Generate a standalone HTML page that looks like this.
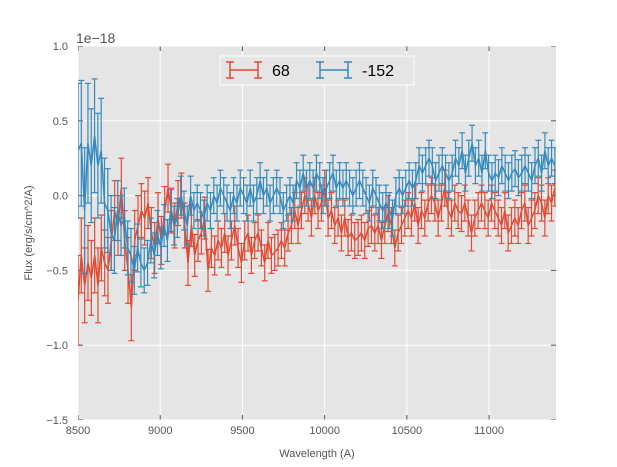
<!DOCTYPE html>
<html><head><meta charset="utf-8"><style>
body{margin:0;background:#fff;}
svg{display:block;font-family:"Liberation Sans","DejaVu Sans",sans-serif;}
</style></head><body>
<svg id="chart" width="617" height="467"></svg>
<script>
const red68 = [-0.7,-0.4,-0.6,-0.45,-0.55,-0.4,-0.6,-0.35,-0.45,-0.5,-0.3,-0.1,-0.2,0.05,-0.3,-0.5,-0.75,-0.3,-0.2,-0.1,-0.15,-0.05,-0.25,-0.35,-0.15,-0.3,-0.1,0.05,-0.1,-0.2,-0.05,0.0,-0.2,-0.45,-0.2,-0.4,-0.3,-0.25,-0.15,-0.5,-0.35,-0.4,-0.3,-0.35,-0.25,-0.4,-0.3,-0.2,-0.35,-0.45,-0.3,-0.25,-0.4,-0.3,-0.25,-0.35,-0.45,-0.3,-0.4,-0.38,-0.35,-0.3,-0.35,-0.25,-0.2,-0.1,-0.2,-0.1,0.0,-0.05,-0.15,0.0,-0.1,-0.05,0.05,-0.15,-0.1,-0.2,-0.15,-0.25,-0.15,-0.28,-0.25,-0.3,-0.28,-0.25,-0.3,-0.22,-0.2,-0.25,-0.2,-0.3,-0.2,-0.12,-0.2,-0.35,-0.25,-0.2,-0.15,-0.1,-0.15,-0.05,-0.2,-0.1,-0.15,-0.05,0.0,-0.05,-0.15,-0.05,0.05,-0.1,-0.15,-0.05,-0.1,-0.12,-0.05,-0.15,-0.25,-0.15,-0.1,-0.05,-0.1,-0.15,-0.05,-0.1,-0.15,-0.2,-0.1,-0.25,-0.2,-0.15,-0.2,-0.1,-0.05,-0.2,-0.15,-0.1,0.0,-0.05,-0.15,0.0,-0.05,0.05];
const redErr = [0.3,0.25,0.25,0.25,0.25,0.25,0.25,0.22,0.22,0.22,0.2,0.2,0.2,0.2,0.2,0.22,0.22,0.2,0.2,0.18,0.18,0.17,0.17,0.17,0.17,0.16,0.16,0.16,0.15,0.15,0.15,0.15,0.15,0.15,0.14,0.14,0.14,0.14,0.14,0.14,0.13,0.13,0.13,0.13,0.13,0.13,0.13,0.13,0.13,0.13,0.13,0.12,0.12,0.12,0.12,0.12,0.12,0.12,0.12,0.12,0.12,0.12,0.12,0.12,0.12,0.12,0.12,0.12,0.12,0.12,0.12,0.12,0.12,0.12,0.12,0.12,0.12,0.12,0.12,0.12,0.12,0.12,0.12,0.12,0.12,0.12,0.12,0.12,0.12,0.12,0.12,0.12,0.12,0.12,0.12,0.12,0.12,0.12,0.12,0.12,0.12,0.12,0.12,0.12,0.12,0.12,0.12,0.12,0.12,0.12,0.12,0.12,0.12,0.12,0.12,0.12,0.12,0.12,0.12,0.12,0.12,0.12,0.12,0.12,0.12,0.12,0.12,0.12,0.12,0.12,0.12,0.12,0.12,0.12,0.12,0.12,0.12,0.12,0.12,0.12,0.12,0.12,0.12,0.12,0.12];
const blue152 = [0.3,0.35,-0.1,0.35,0.2,0.4,0.2,0.3,-0.05,-0.1,-0.25,-0.3,-0.1,-0.2,-0.15,-0.35,-0.4,-0.5,-0.35,-0.45,-0.5,-0.45,-0.3,-0.4,-0.25,-0.35,-0.2,-0.3,-0.1,-0.2,-0.15,0.0,-0.1,-0.2,0.0,-0.1,-0.05,-0.1,-0.15,-0.05,-0.1,0.0,-0.05,0.05,0.0,-0.05,-0.1,0.0,-0.05,0.05,0.0,-0.05,0.05,-0.05,0.0,0.1,0.0,0.05,-0.05,0.0,0.05,0.0,-0.1,-0.05,0.0,-0.05,0.1,0.05,0.15,0.05,0.1,0.05,0.15,0.1,0.0,0.05,0.1,0.15,0.05,0.1,0.05,0.1,0.05,0.0,0.05,0.1,0.05,0.0,-0.05,0.05,0.0,-0.05,-0.1,-0.05,-0.1,-0.15,0.0,0.05,0.0,0.05,0.1,0.05,0.1,0.2,0.15,0.2,0.25,0.2,0.1,0.15,0.2,0.15,0.1,0.15,0.25,0.2,0.3,0.15,0.25,0.35,0.2,0.25,0.15,0.3,0.15,0.1,0.15,0.12,0.2,0.15,0.1,0.15,0.18,0.12,0.15,0.2,0.15,0.1,0.2,0.25,0.15,0.3,0.2,0.25,0.2];
const blueErr = [0.45,0.42,0.42,0.4,0.38,0.38,0.35,0.35,0.3,0.28,0.25,0.22,0.2,0.2,0.2,0.18,0.18,0.16,0.16,0.16,0.15,0.15,0.15,0.15,0.15,0.14,0.14,0.14,0.14,0.13,0.13,0.13,0.13,0.13,0.13,0.12,0.12,0.12,0.12,0.12,0.12,0.12,0.12,0.12,0.12,0.12,0.12,0.12,0.12,0.12,0.12,0.12,0.12,0.12,0.12,0.12,0.12,0.12,0.12,0.12,0.12,0.12,0.12,0.12,0.12,0.12,0.12,0.12,0.12,0.12,0.12,0.12,0.12,0.12,0.12,0.12,0.12,0.12,0.12,0.12,0.12,0.12,0.12,0.12,0.12,0.12,0.12,0.12,0.12,0.12,0.12,0.12,0.12,0.12,0.12,0.12,0.12,0.12,0.12,0.12,0.12,0.12,0.12,0.12,0.12,0.12,0.12,0.12,0.12,0.12,0.12,0.12,0.12,0.12,0.12,0.12,0.12,0.12,0.12,0.12,0.12,0.12,0.12,0.12,0.12,0.12,0.12,0.12,0.12,0.12,0.12,0.12,0.12,0.12,0.12,0.12,0.12,0.12,0.12,0.12,0.12,0.12,0.12,0.12,0.12];
const xTicks = [8500,9000,9500,10000,10500,11000];
const yTicks = [1.0,0.5,0.0,-0.5,-1.0,-1.5];
const yTickLabels = ["1.0","0.5","0.0","\u22120.5","\u22121.0","\u22121.5"];
const wlStart = 8500, wlEnd = 11400;

const NS="http://www.w3.org/2000/svg", svg=document.getElementById('chart');
const L=78,R=556,T=46,B=420, X0=8500,X1=11407, Y0=-1.5,Y1=1.0;
const sx=v=>L+(v-X0)/(X1-X0)*(R-L), sy=v=>B-(v-Y0)/(Y1-Y0)*(B-T);
function mk(tag,a,p){const e=document.createElementNS(NS,tag);for(const k in a)e.setAttribute(k,a[k]);(p||svg).appendChild(e);return e;}
const bg=mk('rect',{x:L,y:T,width:R-L,height:B-T,fill:'#e5e5e5'});


xTicks.forEach(t=>{const x=sx(t);
 const g=mk('line',{x1:x,x2:x,y1:T,y2:B,stroke:'#fff','stroke-width':1});
 
 
 mk('line',{x1:x,x2:x,y1:B,y2:B-5,stroke:'#555'});mk('line',{x1:x,x2:x,y1:T,y2:T+5,stroke:'#555'});
 const tx=mk('text',{x:x,y:B+14,'text-anchor':'middle','font-size':11,fill:'#555'});tx.textContent=t;
 
 
});
yTicks.forEach((t,i)=>{const y=sy(t);
 const g=mk('line',{x1:L,x2:R,y1:y,y2:y,stroke:'#fff','stroke-width':1});
 
 
 mk('line',{x1:L,x2:L+5,y1:y,y2:y,stroke:'#555'});mk('line',{x1:R,x2:R-5,y1:y,y2:y,stroke:'#555'});
 const tx=mk('text',{x:L-10,y:y+4,'text-anchor':'end','font-size':11,fill:'#555'});tx.textContent=yTickLabels[i];
 
 
});
function series(vals,errs,color,name){
 const g=mk('g',{stroke:color,fill:'none','stroke-width':1.2});
 
 
 const n=vals.length, step=(wlEnd-wlStart)/(n-1);
 let d='';
 vals.forEach((v,i)=>{const x=sx(wlStart+i*step), e=errs[i]||0.12;
  const y1=sy(v+e),y2=sy(v-e);
  mk('line',{x1:x,x2:x,y1:y1,y2:y2},g);
  mk('line',{x1:x-3,x2:x+3,y1:y1,y2:y1},g);
  mk('line',{x1:x-3,x2:x+3,y1:y2,y2:y2},g);
  d+=(i?'L':'M')+x.toFixed(1)+','+sy(v).toFixed(1);
 });
 mk('path',{d:d,'stroke-width':1.5},g);
}
series(red68,redErr,'#e24a33','series-68');
series(blue152,blueErr,'#348abd','series-minus-152');
// clip overflow by redrawing outside area white
[[0,0,617,T],[0,B,617,467-B],[0,0,L,467],[R,0,617-R,467]].forEach(r=>mk('rect',{x:r[0],y:r[1],width:r[2],height:r[3],fill:'#fff'}));
// re-add ticks labels after mask
xTicks.forEach(t=>{const tx=mk('text',{x:sx(t),y:B+14,'text-anchor':'middle','font-size':11,fill:'#555'});tx.textContent=t;
 
 });
yTicks.forEach((t,i)=>{const tx=mk('text',{x:L-10,y:sy(t)+4,'text-anchor':'end','font-size':11,fill:'#555'});tx.textContent=yTickLabels[i];
 
 });
const off=mk('text',{x:76,y:43,'font-size':14,fill:'#555'});off.textContent='1e\u221218';


const xt=mk('text',{x:(L+R)/2,y:457,'text-anchor':'middle','font-size':11,fill:'#555'});xt.textContent='Wavelength (A)';


const yt=mk('text',{x:32,y:(T+B)/2,'text-anchor':'middle','font-size':11,fill:'#555',transform:`rotate(-90 32 ${(T+B)/2})`});yt.textContent='Flux (erg/s/cm^2/A)';


// legend
const lg=mk('g',{});


mk('rect',{x:220,y:56,width:194,height:29,fill:'#e5e5e5',stroke:'#fff','stroke-width':1},lg);
[[230,'#e24a33','68'],[320,'#348abd','-152']].forEach(([x0,c,lab])=>{
 const e=mk('g',{stroke:c,'stroke-width':1.5},lg);
 
 
 mk('line',{x1:x0,x2:x0+28,y1:70,y2:70},e);
 mk('line',{x1:x0,x2:x0,y1:62,y2:78},e);mk('line',{x1:x0+28,x2:x0+28,y1:62,y2:78},e);
 mk('line',{x1:x0-4,x2:x0+4,y1:62,y2:62},e);mk('line',{x1:x0-4,x2:x0+4,y1:78,y2:78},e);
 mk('line',{x1:x0+24,x2:x0+32,y1:62,y2:62},e);mk('line',{x1:x0+24,x2:x0+32,y1:78,y2:78},e);
 const t=mk('text',{x:x0+42,y:76,'font-size':16,fill:'#000'},lg);t.textContent=lab;
});
</script>
</body></html>
